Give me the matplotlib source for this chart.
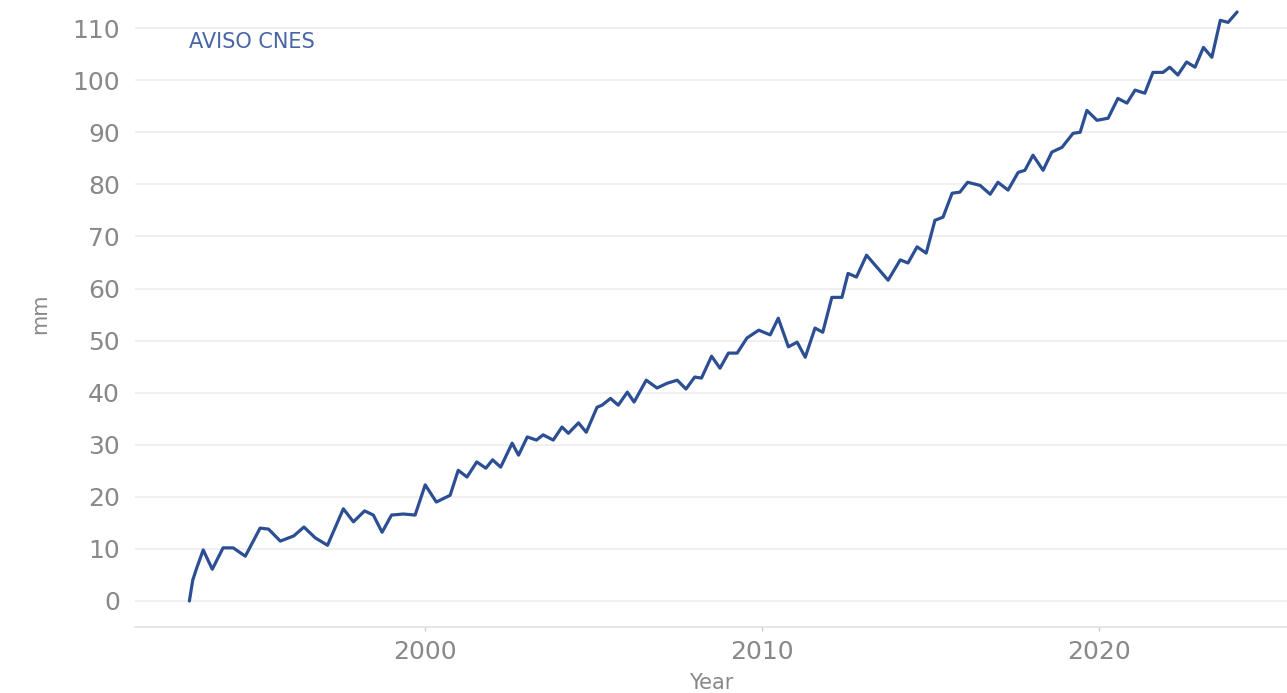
import matplotlib
matplotlib.use("Agg")
import matplotlib.pyplot as plt
from matplotlib.ticker import FixedLocator

years = [1993.0, 1993.1, 1993.2, 1993.41, 1993.68, 1994.0, 1994.3, 1994.66, 1995.1, 1995.35,
         1995.7, 1996.1, 1996.4, 1996.74, 1997.1, 1997.57, 1997.87, 1998.2, 1998.46, 1998.72,
         1999.0, 1999.35, 1999.7, 2000.0, 2000.33, 2000.74, 2000.98, 2001.24, 2001.53, 2001.8,
         2002.0, 2002.24, 2002.58, 2002.77, 2003.03, 2003.3, 2003.5, 2003.8, 2004.06, 2004.25,
         2004.55, 2004.78, 2005.1, 2005.25, 2005.5, 2005.73, 2006.0, 2006.2, 2006.56, 2006.88,
         2007.18, 2007.48, 2007.74, 2008.0, 2008.2, 2008.5, 2008.75, 2009.0, 2009.26, 2009.55,
         2009.9, 2010.24, 2010.48, 2010.78, 2011.04, 2011.28, 2011.57, 2011.8, 2012.07, 2012.37,
         2012.55, 2012.8, 2013.1, 2013.74, 2014.1, 2014.33, 2014.6, 2014.87, 2015.13, 2015.37,
         2015.64, 2015.87, 2016.1, 2016.47, 2016.77, 2017.0, 2017.3, 2017.6, 2017.8, 2018.04,
         2018.34, 2018.6, 2018.9, 2019.23, 2019.44, 2019.64, 2019.94, 2020.27, 2020.56, 2020.83,
         2021.07, 2021.36, 2021.6, 2021.9, 2022.1, 2022.34, 2022.6, 2022.85, 2023.1, 2023.35,
         2023.6, 2023.83, 2024.1]
gmsl_mm = [0.0, 4.0, 6.0, 9.8, 6.1, 10.2, 10.2, 8.6, 14.0, 13.8,
           11.5, 12.5, 14.2, 12.1, 10.7, 17.7, 15.2, 17.3, 16.5, 13.2,
           16.5, 16.7, 16.5, 22.3, 19.0, 20.3, 25.1, 23.8, 26.7, 25.5,
           27.1, 25.7, 30.3, 28.0, 31.5, 30.9, 31.9, 30.9, 33.4, 32.2,
           34.2, 32.4, 37.2, 37.6, 38.9, 37.6, 40.1, 38.2, 42.4, 40.9,
           41.8, 42.4, 40.7, 43.0, 42.8, 47.0, 44.7, 47.6, 47.6, 50.5,
           52.0, 51.1, 54.3, 48.8, 49.7, 46.8, 52.4, 51.6, 58.3, 58.3,
           62.9, 62.2, 66.4, 61.6, 65.5, 64.9, 68.0, 66.8, 73.1, 73.7,
           78.3, 78.5, 80.4, 79.8, 78.1, 80.4, 78.9, 82.3, 82.7, 85.6,
           82.7, 86.2, 87.1, 89.8, 90.0, 94.2, 92.3, 92.7, 96.5, 95.6,
           98.1, 97.5, 101.5, 101.5, 102.5, 101.0, 103.5, 102.5, 106.3, 104.4,
           111.5, 111.1, 113.1]

y_ticks = [0, 10, 20, 30, 40, 50, 60, 70, 80, 90, 100, 110]
x_ticks = [2000, 2010, 2020]
source_label = "AVISO CNES"

fig = plt.figure(figsize=(12.87, 6.93), dpi=100)
ax = fig.add_axes([0.105, 0.0952, 0.895, 0.9048])

ax.plot(years, gmsl_mm, color="#2c4e92", lw=2.3, solid_joinstyle="round", solid_capstyle="round", zorder=3)

ax.set_xlim(1991.39, 2025.58)
ax.set_ylim(-5, 115.4)
ax.yaxis.set_major_locator(FixedLocator(y_ticks))
ax.xaxis.set_major_locator(FixedLocator(x_ticks))
ax.grid(axis="y", color="#f0f0f0", lw=1.4, zorder=0)
ax.grid(axis="x", visible=False)

for s in ["top", "right", "left"]:
    ax.spines[s].set_visible(False)
ax.spines["bottom"].set_color("#e2e2e2")
ax.spines["bottom"].set_linewidth(1.2)

ax.tick_params(axis="y", length=0, pad=11, labelsize=18, labelcolor="#888888")
ax.tick_params(axis="x", length=3, width=1, color="#cccccc", pad=6, labelsize=18, labelcolor="#888888")

ax.set_ylabel("mm", fontsize=15, color="#888888", labelpad=16)
ax.set_xlabel("Year", fontsize=15, color="#888888", labelpad=6.5)

ax.text(1993.0, 107.3, source_label, fontsize=15, color="#4865a6", ha="left", va="center")

fig.savefig("out.png", dpi=100)
